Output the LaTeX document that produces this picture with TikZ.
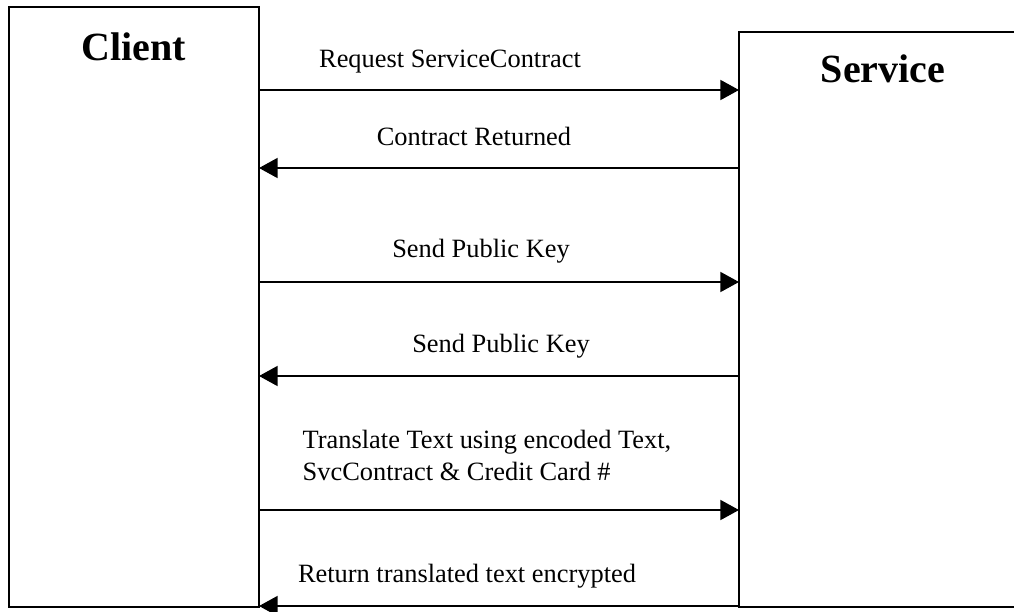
\documentclass[tikz,border=0pt]{standalone}
\usepackage{fontspec}
\setmainfont{Liberation Serif}
\usetikzlibrary{arrows.meta}
\begin{document}
\begin{tikzpicture}[x=0.75pt,y=-0.75pt,
  box/.style={draw,line width=1.4pt,rectangle,inner sep=0pt,outer sep=0pt},
  title/.style={anchor=base,font=\fontsize{30}{36}\selectfont\bfseries},
  lbl/.style={anchor=base,font=\fontsize{19.8}{24}\selectfont},
  msg/.style={line width=1.4pt,-{Triangle[length=14pt,width=15pt]}}]
\useasboundingbox (0,0) rectangle (1014,611);
\clip (0,0) rectangle (1014,611);
\fill[white] (0,0) rectangle (1014,611);
\node[box,minimum width=187.5pt,minimum height=450pt] (client) at (134,307) {};
\node[box,minimum width=218.25pt,minimum height=431.25pt] (service) at (884.5,319.5) {};
\node[title] (ct) at (134,60) {Client};
\node[title] (st) at (883,82) {Service};
% messages
\draw[msg] (client.east |- 0,90) -- (service.west |- 0,90);
\node[lbl] (l1) at (450,67) {Request ServiceContract};
\draw[msg] (service.west |- 0,168) -- (client.east |- 0,168);
\node[lbl] (l2) at (474,145) {Contract Returned};
\draw[msg] (client.east |- 0,282) -- (service.west |- 0,282);
\node[lbl] (l3) at (481,257) {Send Public Key};
\draw[msg] (service.west |- 0,376) -- (client.east |- 0,376);
\node[lbl] (l4) at (501,352) {Send Public Key};
\draw[msg] (client.east |- 0,510) -- (service.west |- 0,510);
\node[lbl,anchor=base west] (l5a) at (298,448) {Translate Text using encoded Text,};
\node[lbl,anchor=base west] (l5b) at (298,480) {SvcContract \& Credit Card \#};
\draw[msg] (service.west |- 0,606) -- (client.east |- 0,606);
\node[lbl] (l6) at (467,582) {Return translated text encrypted};
\end{tikzpicture}
\end{document}
